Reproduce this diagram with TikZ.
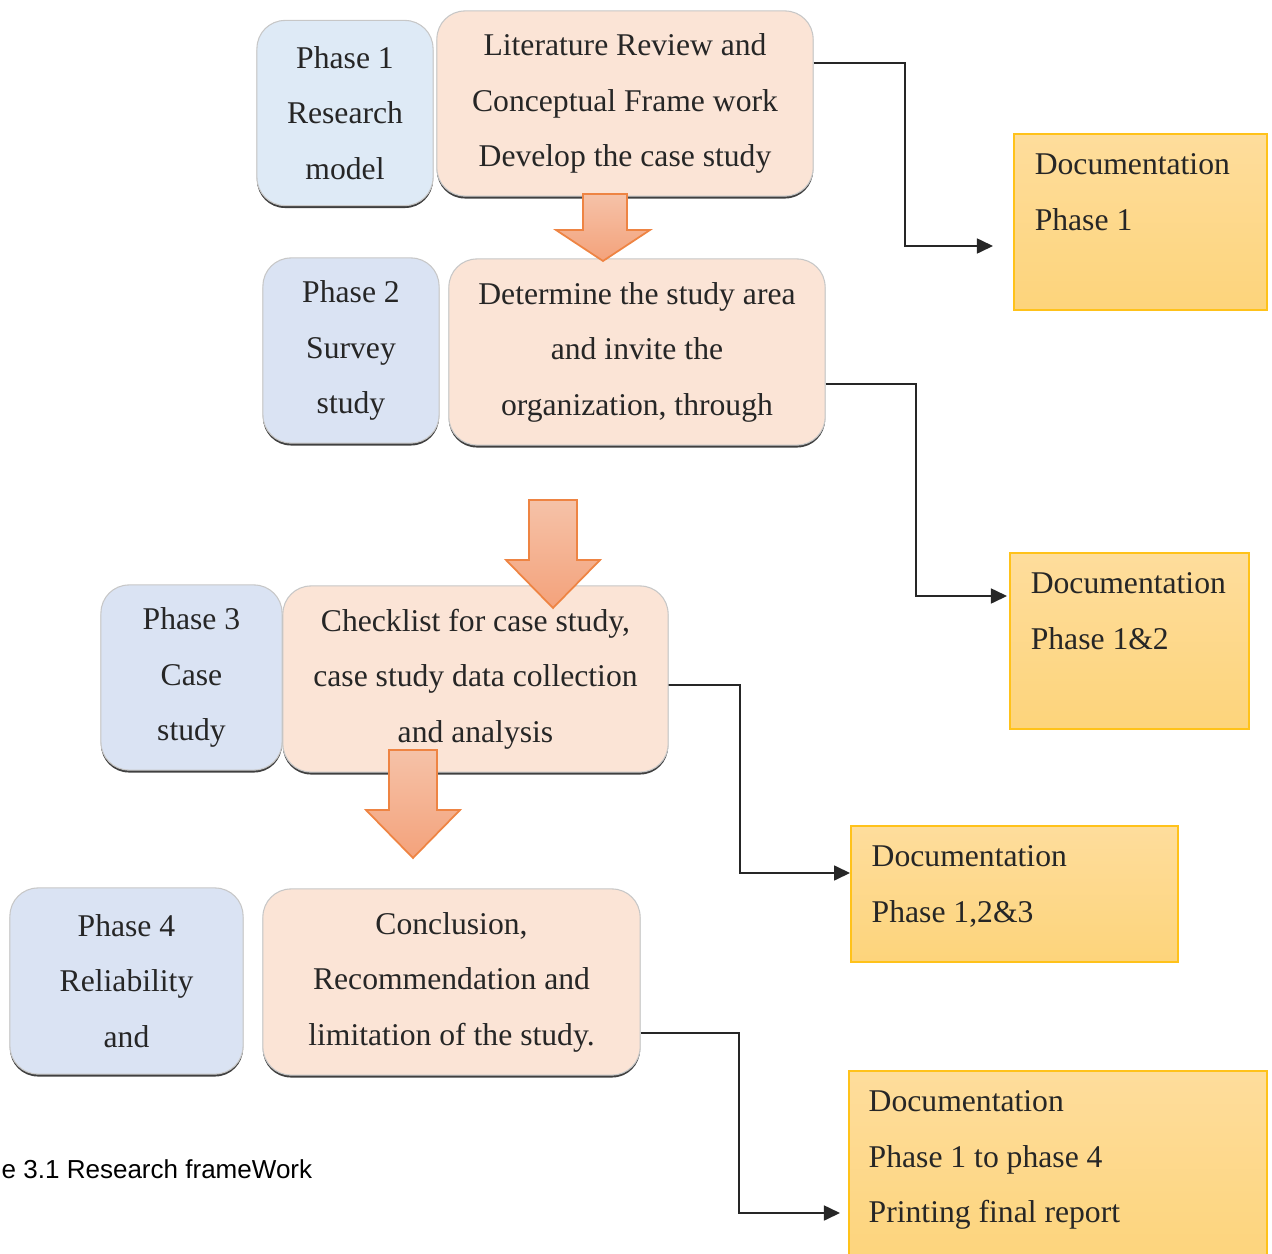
\documentclass[tikz,border=0pt]{standalone}
\usepackage{fontspec}
\setmainfont{Liberation Serif}
\newfontfamily\capfont{Liberation Sans}
\usetikzlibrary{positioning,arrows.meta,shadows}
\definecolor{phaseblue}{HTML}{DAE3F3}
\definecolor{phaselight}{HTML}{DEEAF6}
\definecolor{taskpeach}{HTML}{FBE4D6}
\definecolor{doctop}{HTML}{FEDD9C}
\definecolor{docbottom}{HTML}{FDD47B}
\definecolor{docedge}{HTML}{FFC21A}
\definecolor{flowtop}{HTML}{F5C2A8}
\definecolor{flowbottom}{HTML}{F4A27B}
\definecolor{flowedge}{HTML}{EE8443}

\begin{document}
\begin{tikzpicture}[x=0.01cm,y=-0.01cm,
  box/.style={rounded corners=2.8mm, inner sep=0pt, align=center,
    draw=black!22, line width=0.3pt,
    drop shadow={shadow xshift=0pt, shadow yshift=-0.7pt, fill=black!75, opacity=1},
    font=\fontsize{9}{15.8}\selectfont, text=black!85},
  phase/.style={box, fill=phaseblue},
  task/.style={box, fill=taskpeach},
  doc/.style={draw=docedge, line width=0.5pt, top color=doctop, bottom color=docbottom, inner sep=0pt},
  doctext/.style={inner sep=0pt, align=left, font=\fontsize{9}{15.8}\selectfont, text=black!85},
  flow/.style={draw=flowedge, line width=0.5pt, top color=flowtop, bottom color=flowbottom},
  link/.style={draw=black!85, line width=0.45pt, -{Triangle[length=1.6mm,width=1.5mm]}}]

\useasboundingbox (0,0) rectangle (1272,1254);

% phases and what is done in them
\node[phase, fill=phaselight, minimum width=1.76cm, minimum height=1.85cm] (p1) at (345,113) {Phase 1\\Research\\model};
\node[task, minimum width=3.76cm, minimum height=1.85cm] (lit) at (625,103.5) {Literature Review and\\Conceptual Frame work\\Develop the case study};
\node[phase, minimum width=1.76cm, minimum height=1.85cm] (p2) at (351,350.5) {Phase 2\\Survey\\study};
\node[task, minimum width=3.76cm, minimum height=1.86cm] (det) at (637,352) {Determine the study area\\and invite the\\organization, through};
\node[phase, minimum width=1.81cm, minimum height=1.85cm] (p3) at (191.5,677.5) {Phase 3\\Case\\study};
\node[task, minimum width=3.85cm, minimum height=1.86cm] (chk) at (475.5,679) {Checklist for case study,\\case study data collection\\and analysis};
\node[phase, minimum width=2.33cm, minimum height=1.86cm] (p4) at (126.5,981) {Phase 4\\Reliability\\and};
\node[task, minimum width=3.77cm, minimum height=1.86cm] (con) at (451.5,982) {Conclusion,\\Recommendation and\\limitation of the study.};

% block arrows between the steps
\path[flow] (583,194) -- (627,194) -- (627,230) -- (650,230) -- (603,261) -- (556,230) -- (583,230) -- cycle;
\path[flow] (529,500) -- (577,500) -- (577,560) -- (600,560) -- (553,608) -- (506,560) -- (529,560) -- cycle;
\path[flow] (389,750) -- (437,750) -- (437,810) -- (460,810) -- (413,858) -- (366,810) -- (389,810) -- cycle;

% documentation boxes
\node[doc, minimum width=2.53cm, minimum height=1.76cm] (d1) at (1140.5,222) {};
\node[doctext, below right=2mm and 2.1mm of d1.north west] (d1t) {Documentation\\Phase 1};
\node[doc, minimum width=2.39cm, minimum height=1.76cm] (d2) at (1129.5,641) {};
\node[doctext, below right=2mm and 2.1mm of d2.north west] (d2t) {Documentation\\Phase 1\&2};
\node[doc, minimum width=3.27cm, minimum height=1.36cm] (d3) at (1014.5,894) {};
\node[doctext, below right=2mm and 2.1mm of d3.north west] (d3t) {Documentation\\Phase 1,2\&3};
\node[doc, minimum width=4.18cm, minimum height=1.95cm] (d4) at (1058,1168.5) {};
\node[doctext, below right=2mm and 2.0mm of d4.north west] (d4t) {Documentation\\Phase 1 to phase 4\\Printing final report};

% connectors
\coordinate (e1) at (993,246);
\coordinate (e2) at (1007,596);
\coordinate (e4) at (840,1213);
\draw[link] ([yshift=4.05mm]lit.east) -| (905,246) -- (e1);
\draw[link] ([yshift=-3.2mm]det.east) -| (916,596) -- (e2);
\draw[link] ([yshift=-0.6mm]chk.east) -| (740,873) -- ([yshift=2.1mm]d3.west);
\draw[link] ([yshift=-5.1mm]con.east) -| (739,1213) -- (e4);

\node[anchor=base west, inner sep=0pt, font=\capfont\fontsize{7.4}{9}\selectfont] (cap) at (1,1178) {e 3.1 Research frameWork};
\end{tikzpicture}
\end{document}
